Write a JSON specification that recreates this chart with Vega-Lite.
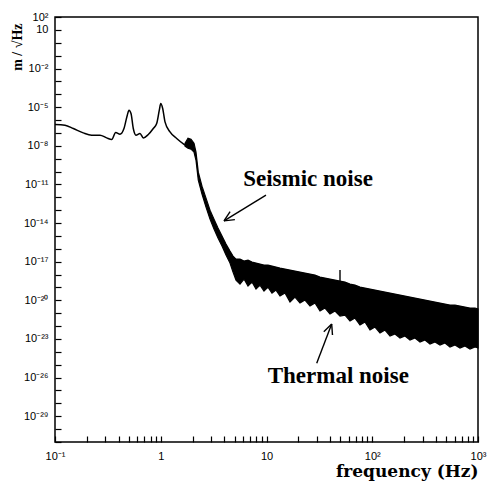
{
  "$schema": "https://vega.github.io/schema/vega-lite/v6.json",
  "width": 423,
  "height": 425,
  "autosize": {"type": "none"},
  "padding": {"left": 55, "top": 17, "right": 9, "bottom": 39},
  "background": "white",
  "config": {
    "view": {"stroke": "black", "strokeWidth": 1.5},
    "axis": {"grid": false, "zindex": 1, "domain": false, "ticks": true, "tickColor": "black", "tickWidth": 1.2, "tickOpacity": 1, "labelColor": "black", "labelFont": "Liberation Sans", "labelFontSize": 11, "titleColor": "black", "labelOverlap": false, "labelFlush": false}
  },
  "datasets": {
    "low": [
      {"f": 0.1, "a": 4.49e-7}, {"f": 0.1243, "a": 3.96e-7}, {"f": 0.149, "a": 2.2e-7}, {"f": 0.185, "a": 1.0e-7},
      {"f": 0.222, "a": 6.64e-8}, {"f": 0.2665, "a": 6.64e-8}, {"f": 0.308, "a": 4.1e-8}, {"f": 0.3438, "a": 3.08e-8},
      {"f": 0.375, "a": 1.08e-7}, {"f": 0.4118, "a": 7.94e-8}, {"f": 0.449, "a": 2.2e-7}, {"f": 0.4827, "a": 2.37e-6},
      {"f": 0.5008, "a": 5.78e-6}, {"f": 0.5234, "a": 3.21e-6}, {"f": 0.55, "a": 2.2e-7}, {"f": 0.583, "a": 6.64e-8},
      {"f": 0.6365, "a": 9.0e-8}, {"f": 0.684, "a": 4.1e-8}, {"f": 0.7625, "a": 7.53e-8}, {"f": 0.85, "a": 2.2e-7},
      {"f": 0.915, "a": 5.37e-7}, {"f": 0.969, "a": 5.78e-6}, {"f": 1.0, "a": 1.91e-5}, {"f": 1.043, "a": 7.83e-6},
      {"f": 1.097, "a": 7.14e-7}, {"f": 1.223, "a": 1.2e-7}, {"f": 1.415, "a": 3.68e-8}, {"f": 1.696, "a": 1.11e-8}
    ],
    "band": [
      {"f": 1.696, "hi": 1.59e-8, "lo": 9.31e-9}, {"f": 1.81, "hi": 3.89e-8, "lo": 6.52e-9}, {"f": 1.932, "hi": 3.25e-8, "lo": 5.45e-9},
      {"f": 2.063, "hi": 1.59e-8, "lo": 3.18e-9}, {"f": 2.154, "hi": 3.18e-9, "lo": 7.55e-10}, {"f": 2.265, "hi": 8.95e-11, "lo": 2.14e-11},
      {"f": 2.455, "hi": 7.35e-12, "lo": 1.76e-12}, {"f": 2.679, "hi": 8.61e-13, "lo": 1.72e-13}, {"f": 2.923, "hi": 1.01e-13, "lo": 2.02e-14},
      {"f": 3.188, "hi": 2.02e-14, "lo": 3.39e-15}, {"f": 3.478, "hi": 4.05e-15, "lo": 6.79e-16}, {"f": 3.795, "hi": 9.7e-16, "lo": 1.63e-16},
      {"f": 4.14, "hi": 2.32e-16, "lo": 3.26e-17}, {"f": 4.516, "hi": 6.65e-17, "lo": 7.8e-18}, {"f": 4.823, "hi": 2.72e-17, "lo": 1.56e-18},
      {"f": 5.148, "hi": 1.59e-17, "lo": 3.74e-19},
      {"f": 5.615, "hi": 1.594e-17, "lo": 1.832e-19}, {"f": 6.129, "hi": 1.115e-17, "lo": 4.474e-19}, {"f": 6.683, "hi": 1.333e-17, "lo": 1.281e-19},
      {"f": 7.292, "hi": 9.324e-18, "lo": 2.618e-19}, {"f": 7.956, "hi": 7.8e-18, "lo": 7.499e-20}, {"f": 8.679, "hi": 6.524e-18, "lo": 1.532e-19},
      {"f": 9.469, "hi": 5.456e-18, "lo": 5.246e-20}, {"f": 10.33, "hi": 5.456e-18, "lo": 1.072e-19}, {"f": 11.27, "hi": 4.563e-18, "lo": 3.67e-20},
      {"f": 12.3, "hi": 3.816e-18, "lo": 6.272e-20}, {"f": 13.42, "hi": 3.193e-18, "lo": 2.147e-20}, {"f": 14.96, "hi": 2.671e-18, "lo": 3.67e-20},
      {"f": 16.68, "hi": 2.234e-18, "lo": 7.352e-21}, {"f": 18.6, "hi": 1.868e-18, "lo": 1.796e-20}, {"f": 20.74, "hi": 1.562e-18, "lo": 6.15e-21},
      {"f": 23.12, "hi": 1.307e-18, "lo": 1.051e-20}, {"f": 25.78, "hi": 1.093e-18, "lo": 3.598e-21}, {"f": 28.75, "hi": 9.144e-19, "lo": 6.15e-21},
      {"f": 32.05, "hi": 6.396e-19, "lo": 1.473e-21}, {"f": 35.74, "hi": 5.35e-19, "lo": 2.518e-21}, {"f": 39.85, "hi": 4.474e-19, "lo": 8.619e-22},
      {"f": 44.43, "hi": 3.742e-19, "lo": 1.473e-21}, {"f": 49.55, "hi": 3.13e-19, "lo": 6.03e-22}, {"f": 55.25, "hi": 2.618e-19, "lo": 7.21e-22},
      {"f": 61.6, "hi": 1.832e-19, "lo": 2.468e-22}, {"f": 68.69, "hi": 1.532e-19, "lo": 4.219e-22}, {"f": 76.59, "hi": 1.072e-19, "lo": 1.208e-22},
      {"f": 85.39, "hi": 8.966e-20, "lo": 2.064e-22}, {"f": 95.21, "hi": 7.499e-20, "lo": 4.945e-23}, {"f": 106.2, "hi": 6.272e-20, "lo": 8.45e-23},
      {"f": 118.4, "hi": 5.246e-20, "lo": 2.894e-23}, {"f": 132.0, "hi": 4.387e-20, "lo": 4.945e-23}, {"f": 147.2, "hi": 3.67e-20, "lo": 1.693e-23},
      {"f": 164.1, "hi": 3.07e-20, "lo": 2.42e-23}, {"f": 183.0, "hi": 2.568e-20, "lo": 1.185e-23}, {"f": 204.0, "hi": 2.147e-20, "lo": 1.693e-23},
      {"f": 227.5, "hi": 1.796e-20, "lo": 8.287e-24}, {"f": 253.7, "hi": 1.502e-20, "lo": 1.185e-23}, {"f": 282.9, "hi": 1.257e-20, "lo": 5.797e-24},
      {"f": 315.4, "hi": 1.051e-20, "lo": 8.287e-24}, {"f": 351.6, "hi": 8.79e-21, "lo": 4.056e-24}, {"f": 392.1, "hi": 7.352e-21, "lo": 5.797e-24},
      {"f": 437.2, "hi": 6.15e-21, "lo": 3.392e-24}, {"f": 487.5, "hi": 5.143e-21, "lo": 4.85e-24}, {"f": 543.6, "hi": 4.302e-21, "lo": 2.373e-24},
      {"f": 606.0, "hi": 4.302e-21, "lo": 3.392e-24}, {"f": 675.6, "hi": 3.598e-21, "lo": 1.985e-24}, {"f": 753.3, "hi": 3.009e-21, "lo": 2.837e-24},
      {"f": 840.0, "hi": 2.518e-21, "lo": 1.66e-24}, {"f": 936.9, "hi": 2.518e-21, "lo": 2.373e-24}, {"f": 1000, "hi": 2.106e-21, "lo": 1.985e-24}
    ],
    "segs": [
      {"f": 9.89, "a": 1.47e-12, "f2": 3.964, "a2": 1.492e-14},
      {"f": 3.964, "a": 1.492e-14, "f2": 5.024, "a2": 1.849e-14},
      {"f": 3.964, "a": 1.492e-14, "f2": 4.525, "a2": 7.715e-14},
      {"f": 29.83, "a": 1.289e-25, "f2": 41.35, "a2": 1.444e-22},
      {"f": 41.35, "a": 1.444e-22, "f2": 34.82, "a2": 3.649e-23},
      {"f": 41.35, "a": 1.444e-22, "f2": 42.07, "a2": 2.024e-23},
      {"f": 49.55, "a": 2.234e-18, "f2": 49.55, "a2": 2.19e-19}
    ],
    "notes": [
      {"f": 24.69, "a": 7.34e-12, "text": "Seismic noise"},
      {"f": 47.73, "a": 3.82e-27, "text": "Thermal noise"}
    ]
  },
  "layer": [
    {
      "data": {"name": "band"},
      "mark": {"type": "area", "color": "black", "stroke": "black", "strokeWidth": 1.2},
      "encoding": {
        "x": {"field": "f", "type": "quantitative",
          "scale": {"type": "log", "domain": [0.1, 1000], "nice": false},
          "axis": {
            "title": "frequency (Hz)", "titleFont": "DejaVu Serif", "titleFontWeight": "bold", "titleFontSize": 17,
            "titleAnchor": "end", "titleAlign": "right", "titleBaseline": "alphabetic", "titleX": 423, "titleY": 40,
            "values": [0.1,0.2,0.3,0.4,0.5,0.6,0.7,0.8,0.9,1,2,3,4,5,6,7,8,9,10,20,30,40,50,60,70,80,90,100,200,300,400,500,600,700,800,900,1000],
            "labelExpr": "datum.value == 0.1 ? '10⁻¹' : datum.value == 1 ? '1' : datum.value == 10 ? '10' : datum.value == 100 ? '10²' : datum.value == 1000 ? '10³' : ''",
            "offset": -6,
            "tickSize": 6,
            "labelPadding": 8
          }
        },
        "y": {"field": "hi", "type": "quantitative",
          "scale": {"type": "log", "domain": [1e-31, 100], "nice": false},
          "axis": {
            "title": "m / √Hz", "titleFont": "Liberation Serif", "titleFontWeight": "bold", "titleFontSize": 14,
            "titleAngle": 270, "titleAnchor": "end", "titleAlign": "right", "titleBaseline": "middle", "titleX": -44, "titleY": 6,
            "values": [100,10,1,1e-1,1e-2,1e-3,1e-4,1e-5,1e-6,1e-7,1e-8,1e-9,1e-10,1e-11,1e-12,1e-13,1e-14,1e-15,1e-16,1e-17,1e-18,1e-19,1e-20,1e-21,1e-22,1e-23,1e-24,1e-25,1e-26,1e-27,1e-28,1e-29,1e-30,1e-31],
            "labelExpr": "['10²','10','10⁻²','10⁻⁵','10⁻⁸','10⁻¹¹','10⁻¹⁴','10⁻¹⁷','10⁻²⁰','10⁻²³','10⁻²⁶','10⁻²⁹'][indexof([2,1,-2,-5,-8,-11,-14,-17,-20,-23,-26,-29], round(log(datum.value)/LN10))] || ''",
            "offset": -6,
            "tickSize": 6,
            "labelPadding": 7
          }
        },
        "y2": {"field": "lo"}
      }
    },
    {
      "data": {"name": "low"},
      "mark": {"type": "line", "color": "black", "strokeWidth": 1.5, "interpolate": "monotone"},
      "encoding": {
        "x": {"field": "f", "type": "quantitative", "scale": {"type": "log", "domain": [0.1, 1000], "nice": false}},
        "y": {"field": "a", "type": "quantitative", "scale": {"type": "log", "domain": [1e-31, 100], "nice": false}}
      }
    },
    {
      "data": {"name": "segs"},
      "mark": {"type": "rule", "color": "black", "strokeWidth": 1.4},
      "encoding": {
        "x": {"field": "f", "type": "quantitative", "scale": {"type": "log", "domain": [0.1, 1000], "nice": false}},
        "y": {"field": "a", "type": "quantitative", "scale": {"type": "log", "domain": [1e-31, 100], "nice": false}},
        "x2": {"field": "f2"},
        "y2": {"field": "a2"}
      }
    },
    {
      "data": {"name": "notes"},
      "mark": {"type": "text", "font": "Liberation Serif", "fontWeight": "bold", "fontSize": 23, "align": "center", "baseline": "alphabetic", "color": "black"},
      "encoding": {
        "x": {"field": "f", "type": "quantitative", "scale": {"type": "log", "domain": [0.1, 1000], "nice": false}},
        "y": {"field": "a", "type": "quantitative", "scale": {"type": "log", "domain": [1e-31, 100], "nice": false}},
        "text": {"field": "text"}
      }
    }
  ]
}
